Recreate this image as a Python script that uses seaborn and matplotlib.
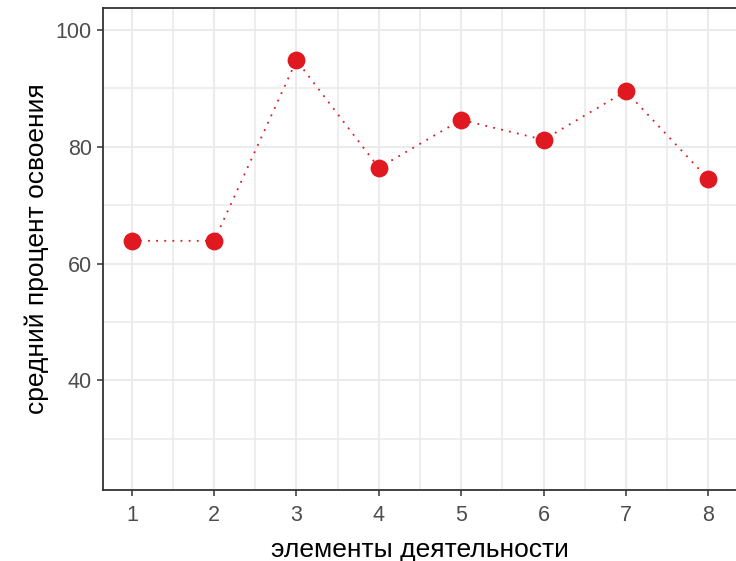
import numpy as np
import pandas as pd
import matplotlib
matplotlib.use("Agg")
import matplotlib.pyplot as plt
import seaborn as sns
from matplotlib.ticker import MultipleLocator

elements = [1, 2, 3, 4, 5, 6, 7, 8]
mastery = [63.9, 63.9, 94.8, 76.4, 84.6, 81.2, 89.5, 74.5]

df = pd.DataFrame({"element": elements, "mastery": mastery})

sns.set_theme(style="white")
plt.rcParams["font.family"] = ["Liberation Sans", "DejaVu Sans"]

red = "#E0181F"
fig = plt.figure(figsize=(7.36, 5.61), dpi=100)
ax = fig.add_axes([103 / 736, 71 / 561, 634 / 736, 482 / 561])

sns.lineplot(data=df, x="element", y="mastery", ax=ax, color=red,
             linestyle=(0, (1, 3.5)), linewidth=1.3)
sns.scatterplot(data=df, x="element", y="mastery", ax=ax, color=red,
                s=165, edgecolor=red, linewidth=0, zorder=3)

ax.set_xlim(0.65, 8.35)
ax.set_ylim(21.25, 103.75)
ax.set_xticks(elements)
ax.set_yticks([40, 60, 80, 100])
ax.xaxis.set_minor_locator(MultipleLocator(0.5))
ax.yaxis.set_minor_locator(MultipleLocator(10))
ax.grid(True, which="major", color="#ebebeb", linewidth=1.5)
ax.grid(True, which="minor", color="#ebebeb", linewidth=1.2)
ax.set_axisbelow(True)

for side in ["left", "bottom", "top", "right"]:
    ax.spines[side].set_color("#333333")
    ax.spines[side].set_linewidth(1.3)

ax.tick_params(axis="both", which="major", length=4, width=1.1, color="#333333",
               labelcolor="#4d4d4d", labelsize=15.5, pad=4, bottom=True, left=True)
ax.tick_params(axis="x", which="major", pad=6.5)
ax.tick_params(axis="both", which="minor", length=0)

ax.set_xlabel("элементы деятельности", fontsize=19, color="black", labelpad=9)
ax.set_ylabel("средний процент освоения", fontsize=19, color="black", labelpad=5)

fig.savefig("out.png", dpi=100)
